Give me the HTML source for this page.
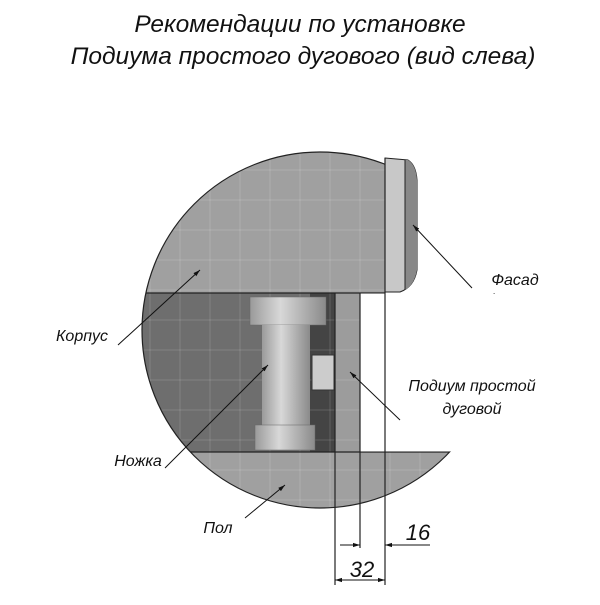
<!DOCTYPE html>
<html><head><meta charset="utf-8"><style>
body{margin:0;background:#fff}
svg text{font-family:"Liberation Sans","DejaVu Sans",sans-serif;font-style:italic;fill:#111}
</style></head><body>
<svg width="600" height="600" viewBox="0 0 600 600" xmlns="http://www.w3.org/2000/svg">
<defs>
<clipPath id="c"><circle cx="320" cy="330" r="178"/></clipPath>
<linearGradient id="sh" x1="0" x2="1"><stop offset="0" stop-color="#9a9a9a"/><stop offset="0.4" stop-color="#d8d8d8"/><stop offset="1" stop-color="#8a8a8a"/></linearGradient>
<marker id="a" viewBox="0 0 10 10" refX="10" refY="5" markerWidth="7" markerHeight="7" orient="auto"><path d="M0,2L10,5L0,8z" fill="#111"/></marker>
</defs>
<text x="300" y="32" font-size="24.5" text-anchor="middle">Рекомендации по установке</text>
<text x="303" y="64" font-size="24.5" text-anchor="middle">Подиума простого дугового (вид слева)</text>
<g clip-path="url(#c)">
<rect x="0" y="0" width="600" height="293" fill="#a0a0a0"/>
<rect x="0" y="293" width="335" height="159" fill="#6e6e6e"/>
<rect x="310" y="293" width="25" height="159" fill="#444"/>
<rect x="335" y="293" width="25" height="159" fill="#9c9c9c"/>
<rect x="0" y="452" width="600" height="100" fill="#a0a0a0"/>
<g stroke="#fff" stroke-opacity="0.15" stroke-width="1">
<path d="M150 0V600M180 0V600M210 0V600M240 0V600M270 0V600M300 0V600M330 0V600M360 0V600M390 0V600M420 0V600M450 0V600M480 0V600"/>
<path d="M0 170H600M0 200H600M0 230H600M0 260H600M0 290H600M0 320H600M0 350H600M0 380H600M0 410H600M0 440H600M0 470H600M0 500H600"/>
</g>
<g stroke="#222" stroke-width="1.2">
<line x1="100" y1="293" x2="385" y2="293"/>
<line x1="100" y1="452" x2="560" y2="452"/>
</g>
</g>
<circle cx="320" cy="330" r="178" fill="none" stroke="#222" stroke-width="1.2"/>
<rect x="385.6" y="100" width="200" height="193" fill="#fff"/>
<rect x="360.6" y="293.6" width="240" height="157.8" fill="#fff"/>
<path d="M385,158 L408,160 Q416,165 417,180 L417,270 Q414,287 400,292 L385,292 Z" fill="#c8c8c8" stroke="#222" stroke-width="1"/>
<path d="M405,160 L408,160 Q416,165 417,180 L417,270 Q414,285 405,290 Z" fill="#888"/>
<line x1="405" y1="160" x2="405" y2="290" stroke="#222"/>
<rect x="250" y="297" width="76" height="28" fill="url(#sh)" stroke="#666" stroke-width="0.5"/>
<rect x="262" y="325" width="48" height="105" fill="url(#sh)"/>
<rect x="255" y="425" width="60" height="25" fill="url(#sh)" stroke="#666" stroke-width="0.5"/>
<rect x="312" y="355" width="22" height="35" fill="#ccc" stroke="#333" stroke-width="1"/>
<g stroke="#222" stroke-width="1.2">
<line x1="385" y1="158" x2="385" y2="293"/>
<line x1="335" y1="293" x2="335" y2="585"/>
<line x1="360" y1="293" x2="360" y2="548"/>
<line x1="385" y1="293" x2="385" y2="585"/>
</g>
<g stroke="#111" stroke-width="1">
<line x1="340" y1="545" x2="360" y2="545" marker-end="url(#a)"/>
<line x1="430" y1="545" x2="385" y2="545" marker-end="url(#a)"/>
<line x1="360" y1="580" x2="335" y2="580" marker-end="url(#a)"/>
<line x1="360" y1="580" x2="385" y2="580" marker-end="url(#a)"/>
<line x1="118" y1="345" x2="200" y2="270" marker-end="url(#a)"/>
<line x1="165" y1="468" x2="268" y2="365" marker-end="url(#a)"/>
<line x1="245" y1="518" x2="285" y2="485" marker-end="url(#a)"/>
<line x1="472" y1="288" x2="413" y2="225" marker-end="url(#a)"/>
<line x1="400" y1="420" x2="350" y2="372" marker-end="url(#a)"/>
</g>
<text x="418" y="540" font-size="22" text-anchor="middle">16</text>
<text x="362" y="577" font-size="22" text-anchor="middle">32</text>
<text x="82" y="341" font-size="16" text-anchor="middle">Корпус</text>
<text x="138" y="466" font-size="16" text-anchor="middle">Ножка</text>
<text x="218" y="533" font-size="16" text-anchor="middle">Пол</text>
<text x="515" y="285" font-size="16" text-anchor="middle">Фасад</text>
<text x="472" y="391" font-size="16" text-anchor="middle">Подиум простой</text>
<text x="472" y="414" font-size="16" text-anchor="middle">дуговой</text>
</svg>
</body></html>
